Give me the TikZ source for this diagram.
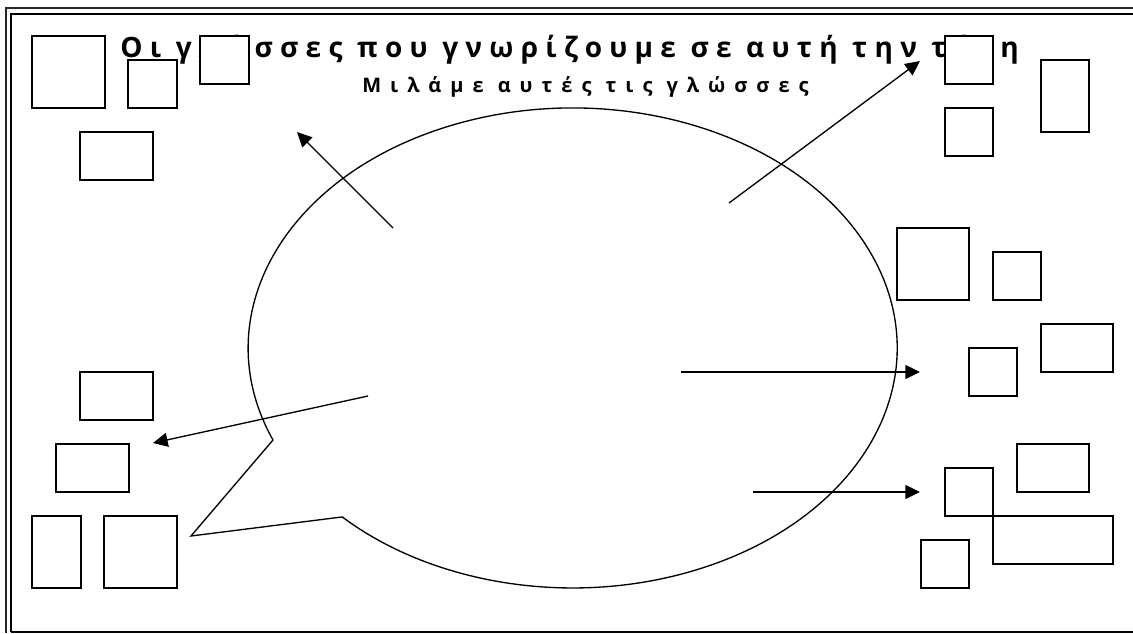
\documentclass[tikz,border=0pt]{standalone}
\usepackage{fontspec}
\setmainfont{Open Sans}
\usepackage{xcolor}
\usepackage{tikz}
\usetikzlibrary{arrows.meta,fit}
\definecolor{framegrey}{RGB}{40,40,40}

\begin{document}
\begin{tikzpicture}[
  x=0.75pt, y=-0.75pt,
  box/.style={draw=black, fill=white, line width=1.5pt, inner sep=0pt},
  bubble/.style={draw=black, line width=1pt, line join=miter},
  arrow/.style={-{Triangle[length=11pt,width=10.5pt]}, line width=1pt},
  titletext/.style={inner sep=0pt, anchor=base west, font=\bfseries\fontsize{21}{25}\selectfont\addfontfeatures{LetterSpace=26}},
  subtext/.style={inner sep=0pt, anchor=base west, font=\bfseries\fontsize{15}{18}\selectfont\addfontfeatures{LetterSpace=45}}
]
  \useasboundingbox (0,0) rectangle (1133,633);

  % Page frame (double line on top and left)
  \draw[framegrey, line width=1.5pt] (1133,8) -- (5.5,8) -- (5.5,633);
  \draw[black, line width=2.2pt] (1133,14) -- (11,14) -- (11,632);
  \draw[black, line width=1pt] (11,632) -- (1133,632);

  % Heading
  \node[titletext] (title) at (120,57) {Οι γλώσσες που γνωρίζουμε σε αυτή την τάξη};
  \node[subtext] (subtitle) at (362,92) {Μιλάμε αυτές τις γλώσσες};

  % Boxes, top left
  \node[box, fit={(32,36) (105,108)}] (lang1) {};
  \node[box, fit={(128,60) (177,108)}] (lang2) {};
  \node[box, fit={(200,36) (249,84)}] (lang3) {};
  \node[box, fit={(80,132) (153,180)}] (lang4) {};

  % Boxes, top right
  \node[box, fit={(945,36) (993,84)}] (lang5) {};
  \node[box, fit={(945,108) (993,156)}] (lang6) {};
  \node[box, fit={(1041,60) (1089,132)}] (lang7) {};

  % Boxes, middle right
  \node[box, fit={(897,228) (969,300)}] (lang8) {};
  \node[box, fit={(993,252) (1041,300)}] (lang9) {};
  \node[box, fit={(1041,324) (1113,372)}] (lang10) {};
  \node[box, fit={(969,348) (1017,396)}] (lang11) {};

  % Boxes, bottom right
  \node[box, fit={(1017,444) (1089,492)}] (lang12) {};
  \node[box, fit={(945,468) (993,516)}] (lang13) {};
  \node[box, fit={(993,516) (1113,564)}] (lang14) {};
  \node[box, fit={(921,540) (969,588)}] (lang15) {};

  % Boxes, bottom left
  \node[box, fit={(80,372) (153,420)}] (lang16) {};
  \node[box, fit={(56,444) (129,492)}] (lang17) {};
  \node[box, fit={(32,516) (81,588)}] (lang18) {};
  \node[box, fit={(104,516) (177,588)}] (lang19) {};

  % Speech bubble: arc of the ellipse, then the tail
  \coordinate (tailTip) at (191,536);
  \draw[bubble] (273,440) arc[start angle=157.45, end angle=495.25, x radius=324.5, y radius=240] -- (tailTip) -- cycle;

  % Arrows out of the bubble
  \coordinate (nwFrom) at (393,228);
  \coordinate (nwTo) at (297,132);
  \coordinate (neFrom) at (729,203);
  \coordinate (neTo) at (920,61);
  \coordinate (wFrom) at (368,396);
  \coordinate (wTo) at (153,443);
  \coordinate (eFrom) at (681,372);
  \coordinate (eTo) at (920,372);
  \coordinate (seFrom) at (753,492);
  \coordinate (seTo) at (920,492);

  \draw[arrow] (nwFrom) -- (nwTo);
  \draw[arrow] (neFrom) -- (neTo);
  \draw[arrow] (wFrom) -- (wTo);
  \draw[arrow] (eFrom) -- (eTo);
  \draw[arrow] (seFrom) -- (seTo);

\end{tikzpicture}
\end{document}
